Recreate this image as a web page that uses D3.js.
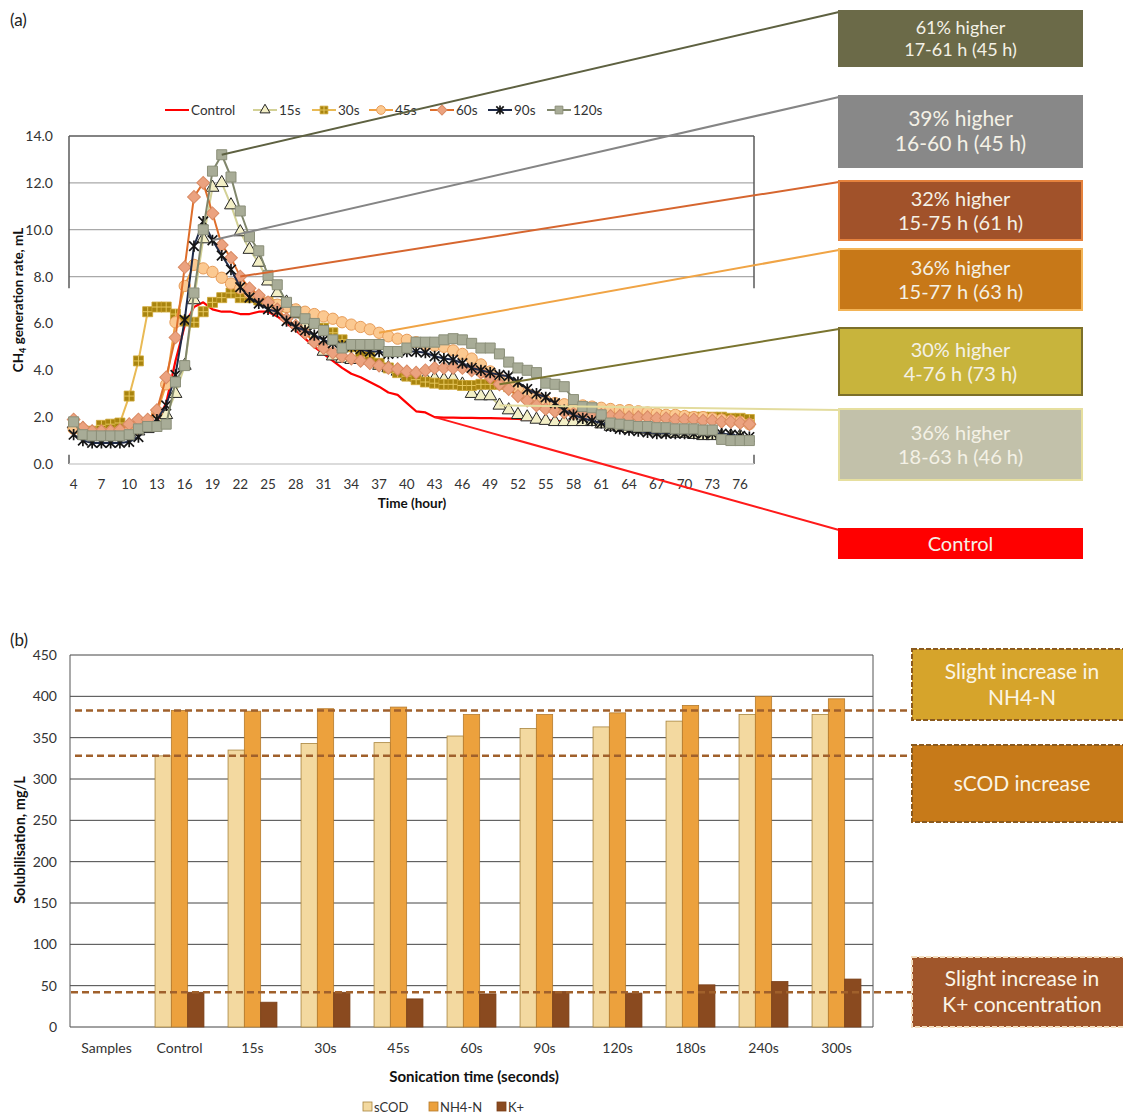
<!DOCTYPE html>
<html lang="en">
  <head>
    <meta charset="utf-8">
    <title>CH4 generation rate and solubilisation</title>
    <style type="text/css">
      body { margin: 0; background: #ffffff; }
      svg { display: block; font-family: Lato, "Open Sans", sans-serif; }
    </style>
  </head>
  <body>
    <svg id="chart" width="1123" height="1116"></svg>

    <script type="text/javascript" src="https://d3js.org/d3.v7.min.js"></script>

    <script type="text/javascript">
    // ===================================
    // DATA : (a) CH4 generation rate
    // ===================================
      var hours = [4, 5, 6, 7, 8, 9, 10, 11, 12, 13, 14, 15, 16, 17, 18, 19, 20, 21, 22, 23,
        24, 25, 26, 27, 28, 29, 30, 31, 32, 33, 34, 35, 36, 37, 38, 39, 40, 41, 42, 43,
        44, 45, 46, 47, 48, 49, 50, 51, 52, 53, 54, 55, 56, 57, 58, 59, 60, 61, 62, 63,
        64, 65, 66, 67, 68, 69, 70, 71, 72, 73, 74, 75, 76, 77];
      var hourTicks = [4, 7, 10, 13, 16, 19, 22, 25, 28, 31, 34, 37, 40, 43, 46, 49, 52, 55, 58, 61, 64, 67, 70, 73, 76];
      var rateTicks = [0, 2, 4, 6, 8, 10, 12, 14];
      var rateGrid = [8, 10, 12];

      var control = [1.5, 1.4, 1.3, 1.3, 1.3, 1.3, 1.35, 1.4, 1.5, 1.8,
        2.6, 4.4, 5.9, 6.7, 6.9, 6.6, 6.5, 6.5, 6.4, 6.4,
        6.5, 6.5, 6.3, 6.0, 5.7, 5.35, 5.0, 4.7, 4.4, 4.1,
        3.85, 3.7, 3.5, 3.3, 3.05, 2.95, 2.6, 2.25, 2.2, 2.0,
        1.98, 1.98, 1.97, 1.97, 1.96, 1.96, 1.95, 1.94, 1.93, 1.9,
        1.88, 1.86, 1.84, 1.82, 1.8, 1.78, 1.75,
        null, null, null, null, null, null, null, null, null, null, null, null, null, null, null, null, null];
      var s15 = [1.7, 1.5, 1.35, 1.3, 1.3, 1.3, 1.3, 1.4, 1.5, 1.7,
        2.1, 3.0, 4.2, 7.0, 9.6, 11.8, 12.0, 11.05, 9.9, 9.15,
        8.6, 7.8, 7.3, 6.9, 6.4, 5.9, 5.3, 4.8, 4.6, 4.5,
        4.45, 4.6, 4.45, 4.2, 4.1, 3.95, 3.75, 3.7, 3.65, 3.65,
        3.6, 3.65, 3.4, 3.0, 2.9, 2.9, 2.5, 2.3, 2.1, 2.0,
        1.9, 1.85, 1.8, 1.8, 1.8, 1.8, 1.8, 1.7, 1.6, 1.55,
        1.5, 1.5, 1.45, 1.4, 1.35, 1.3, 1.3, 1.25, 1.2, 1.2,
        1.2, 1.2, 1.2, null];
      var s30 = [1.6, 1.4, 1.4, 1.65, 1.7, 1.75, 2.9, 4.4, 6.5, 6.7,
        6.7, 6.4, 6.1, 6.05, 6.5, 6.9, 7.1, 7.3, 7.1, 7.1,
        7.0, 6.9, 6.8, 6.7, 6.5, 6.3, 6.0, 5.8, 5.6, 5.3,
        5.0, 4.8, 4.6, 4.3, 4.1, 3.9, 3.75, 3.6, 3.5, 3.45,
        3.4, 3.4, 3.35, 3.35, 3.4, 3.4, 3.4, 3.3, 3.1, 2.9,
        2.7, 2.55, 2.5, 2.4, 2.35, 2.3, 2.3, 2.25, 2.2, 2.2,
        2.15, 2.1, 2.1, 2.1, 2.05, 2.05, 2.0, 2.0, 2.0, 2.0,
        2.0, 1.95, 1.95, 1.9];
      var s45 = [1.5, 1.4, 1.35, 1.35, 1.35, 1.4, 1.45, 1.5, 1.7, 2.2,
        3.4, 6.05, 7.6, 8.5, 8.35, 8.2, 7.95, 7.7, 7.5, 7.3,
        7.1, 6.9, 6.8, 6.7, 6.6, 6.5, 6.4, 6.3, 6.2, 6.05,
        5.95, 5.85, 5.75, 5.6, 5.45, 5.35, 5.3, 5.2, 5.1, 5.05,
        5.0, 4.85, 4.7, 4.5, 4.25, 3.95, 3.65, 3.4, 3.2, 3.0,
        2.85, 2.7, 2.6, 2.55, 2.5, 2.5, 2.45, 2.4, 2.35, 2.3,
        2.3, 2.25, 2.2, 2.15, 2.1, 2.1, 2.05, 2.0, 2.0, 1.95,
        1.9, 1.85, 1.8, 1.7];
      var s60 = [1.9, 1.55, 1.4, 1.4, 1.4, 1.45, 1.7, 1.9, 1.9, 2.3,
        3.7, 5.4, 8.4, 11.4, 12.0, 10.7, 9.35, 8.8, 8.0, 7.5,
        7.2, 6.9, 6.6, 6.2, 5.9, 5.6, 5.2, 4.95, 4.75, 4.6,
        4.5, 4.4, 4.3, 4.2, 4.1, 4.05, 3.95, 3.9, 4.0, 4.1,
        4.1, 4.1, 4.1, 4.0, 3.9, 3.7, 3.4, 3.2, 2.9, 2.7,
        2.5, 2.35, 2.25, 2.2, 2.15, 2.1, 2.1, 2.1, 2.05, 2.05,
        2.0, 2.0, 2.0, 1.95, 1.95, 1.9, 1.9, 1.9, 1.85, 1.85,
        1.8, 1.8, 1.75, 1.7];
      var s90 = [1.25, 1.0, 0.9, 0.9, 0.9, 0.9, 0.95, 1.15, 1.6, 1.9,
        2.5, 3.8, 6.15, 9.3, 10.35, 9.55, 8.9, 8.3, 7.55, 7.1,
        6.85, 6.6, 6.5, 6.1, 5.85, 5.7, 5.5, 5.3, 5.15, 5.05,
        5.0, 4.9, 4.8, 4.8, 4.7, 4.75, 4.8, 4.8, 4.75, 4.6,
        4.5, 4.45, 4.3, 4.1, 4.0, 3.9, 3.8, 3.75, 3.5, 3.2,
        3.0, 2.85, 2.6, 2.3, 2.1, 1.95, 1.85, 1.75, 1.6, 1.5,
        1.45, 1.4, 1.35, 1.3, 1.3, 1.3, 1.3, 1.3, 1.3, 1.3,
        1.3, 1.25, 1.2, 1.15];
      var s120 = [1.8, 1.25, 1.2, 1.2, 1.2, 1.2, 1.25, 1.5, 1.6, 1.6,
        1.7, 3.5, 4.2, 7.3, 10.0, 12.5, 13.2, 12.25, 10.8, 9.7,
        9.1, 8.05, 7.65, 6.9, 6.5, 6.2, 6.0, 5.7, 5.3, 4.95,
        5.1, 5.1, 5.1, 5.1, 4.8, 4.8, 4.95, 5.2, 5.2, 5.2,
        5.3, 5.35, 5.3, 5.15, 4.95, 4.95, 4.7, 4.35, 4.1, 4.0,
        3.9, 3.45, 3.4, 3.3, 2.75, 2.45, 2.4, 2.1, 1.75, 1.7,
        1.65, 1.6, 1.6, 1.55, 1.55, 1.5, 1.5, 1.5, 1.45, 1.45,
        1.05, 1.0, 1.0, 1.0];

    // ===================================
    // DATA : (b) solubilisation
    // ===================================
      var samples = ["Samples", "Control", "15s", "30s", "45s", "60s", "90s", "120s", "180s", "240s", "300s"];
      var scod = [null, 328, 335, 343, 344, 352, 361, 363, 370, 378, 378];
      var nh4n = [null, 383, 382, 385, 387, 378, 378, 380, 389, 400, 397];
      var kplus = [null, 42, 30, 42, 34, 40, 43, 41, 51, 55, 58];
      var solTicks = [0, 50, 100, 150, 200, 250, 300, 350, 400, 450];

    // ===================================
    // SETUP
    // ===================================
      var svg = d3.select("#chart");
      var textColor = "#333333";

      // series styles, drawn in this order
      var seriesA = [
        { name: "Control", values: control, line: "#ff0000", width: 2.2, marker: null },
        { name: "15s", values: s15, line: "#d3d196", width: 2, marker: "triangle" },
        { name: "30s", values: s30, line: "#e9ba55", width: 2, marker: "squareCross" },
        { name: "45s", values: s45, line: "#f0a042", width: 2, marker: "circle" },
        { name: "60s", values: s60, line: "#de6e2b", width: 2, marker: "diamond" },
        { name: "90s", values: s90, line: "#1f2a47", width: 2, marker: "asterisk" },
        { name: "120s", values: s120, line: "#80866b", width: 2, marker: "square" }
      ];
      var byName = {};
      seriesA.forEach(function(s) { byName[s.name] = s; });

      // draws one marker glyph centred on (x, y)
      function drawMarker(g, type, x, y, k) {
        k = k || 1;
        var m = g.append("g").attr("transform", "translate(" + x + "," + y + ")");
        if (type === "triangle") {
          m.append("path").attr("d", d3.symbol(d3.symbolTriangle, 72 * k)())
            .attr("fill", "#f3efc6").attr("stroke", "#262626").attr("stroke-width", 1);
        } else if (type === "squareCross") {
          m.append("path").attr("d", d3.symbol(d3.symbolSquare, 100 * k)())
            .attr("fill", "#a8840f").attr("stroke", "#cfa735").attr("stroke-width", 0.8);
          var h = 5 * Math.sqrt(k);
          m.append("path").attr("d", "M" + (-h) + ",0H" + h + "M0," + (-h) + "V" + h)
            .attr("stroke", "#e6c65c").attr("stroke-width", 1);
        } else if (type === "circle") {
          m.append("path").attr("d", d3.symbol(d3.symbolCircle, 100 * k)())
            .attr("fill", "#fbc991").attr("stroke", "#e89c58").attr("stroke-width", 1);
        } else if (type === "diamond") {
          m.append("path").attr("d", d3.symbol(d3.symbolSquare, 82 * k)())
            .attr("transform", "rotate(45)")
            .attr("fill", "#eba27f").attr("stroke", "#d98a63").attr("stroke-width", 1);
        } else if (type === "asterisk") {
          var a = 4.8 * Math.sqrt(k);
          m.append("path")
            .attr("d", "M" + (-a) + "," + (-a) + "L" + a + "," + a + "M" + (-a) + "," + a + "L" + a + "," + (-a) +
              "M0," + (-a - 0.8) + "V" + (a + 0.8))
            .attr("stroke", "#151515").attr("stroke-width", 1.7).attr("fill", "none");
        } else if (type === "square") {
          m.append("path").attr("d", d3.symbol(d3.symbolSquare, 100 * k)())
            .attr("fill", "#a8ac97").attr("stroke", "#8b8f79").attr("stroke-width", 1);
        }
      }

    // ===================================
    // CHART (a)
    // ===================================
      var xA = d3.scalePoint().domain(hours).range([69, 754]).padding(0.5);
      var yA = d3.scaleLinear().domain([0, 14]).range([464, 136]);
      var gA = svg.append("g");

      svg.append("text").attr("x", 10).attr("y", 26)
        .attr("font-size", 17).attr("fill", "#222").text("(a)");

      // gridlines and frame (lower part of the frame is not drawn in the original)
      gA.selectAll("line.grid")
        .data(rateGrid)
        .enter()
        .append("line")
        .attr("x1", 69).attr("x2", 754)
        .attr("y1", function(d) { return yA(d); })
        .attr("y2", function(d) { return yA(d); })
        .attr("stroke", "#a9a9a9").attr("stroke-width", 1.2);
      gA.append("line").attr("x1", 69).attr("x2", 754).attr("y1", yA(14)).attr("y2", yA(14))
        .attr("stroke", "#5a5a5a").attr("stroke-width", 1.5);
      [69, 754].forEach(function(x) {
        gA.append("line").attr("x1", x).attr("x2", x).attr("y1", yA(14)).attr("y2", yA(7.5))
          .attr("stroke", "#5a5a5a").attr("stroke-width", 1.5);
        gA.append("line").attr("x1", x).attr("x2", x).attr("y1", yA(0.4)).attr("y2", yA(0))
          .attr("stroke", "#5a5a5a").attr("stroke-width", 1.5);
      });
      gA.append("line").attr("x1", 69).attr("x2", 754).attr("y1", yA(0)).attr("y2", yA(0))
        .attr("stroke", "#cfcfcf").attr("stroke-width", 1.5);

      // tick labels
      gA.selectAll("text.ytick")
        .data(rateTicks)
        .enter()
        .append("text")
        .attr("x", 53)
        .attr("y", function(d) { return yA(d) + 5; })
        .attr("text-anchor", "end")
        .attr("font-size", 14).attr("fill", textColor)
        .text(function(d) { return d3.format(".1f")(d); });
      gA.selectAll("text.xtick")
        .data(hourTicks)
        .enter()
        .append("text")
        .attr("x", function(d) { return xA(d); })
        .attr("y", 489)
        .attr("text-anchor", "middle")
        .attr("font-size", 13.5).attr("fill", textColor)
        .text(function(d) { return d; });

      // axis titles
      gA.append("text").attr("x", 412).attr("y", 508).attr("text-anchor", "middle")
        .attr("font-size", 13.5).attr("font-weight", "bold").attr("fill", "#111").text("Time (hour)");
      var yTitle = gA.append("text").attr("transform", "translate(23,300) rotate(-90)")
        .attr("text-anchor", "middle").attr("font-size", 13.5).attr("font-weight", "bold").attr("fill", "#111");
      yTitle.append("tspan").text("CH");
      yTitle.append("tspan").attr("font-size", 9).attr("dy", 3).text("4");
      yTitle.append("tspan").attr("dy", -3).text(" generation rate, mL");

      // series lines and markers
      var lineA = d3.line()
        .defined(function(d) { return d != null; })
        .x(function(d, i) { return xA(hours[i]); })
        .y(function(d) { return yA(d); });

      seriesA.forEach(function(s) {
        var gs = gA.append("g");
        gs.append("path")
          .attr("d", lineA(s.values))
          .attr("fill", "none")
          .attr("stroke", s.line)
          .attr("stroke-width", s.width)
          .attr("stroke-linejoin", "round");
        if (s.marker) {
          s.values.forEach(function(v, i) {
            if (v != null) drawMarker(gs, s.marker, xA(hours[i]), yA(v));
          });
        }
      });

      // legend
      var legendX = [165, 253, 312, 369, 430, 488, 547];
      seriesA.forEach(function(s, i) {
        var lx = legendX[i];
        var lg = gA.append("g");
        lg.append("line").attr("x1", lx).attr("x2", lx + 24).attr("y1", 110).attr("y2", 110)
          .attr("stroke", s.line).attr("stroke-width", 2);
        if (s.marker) drawMarker(lg, s.marker, lx + 12, 110, 0.6);
        lg.append("text").attr("x", lx + 26).attr("y", 114.5)
          .attr("font-size", 13.5).attr("fill", textColor).text(s.name);
      });

      // annotation boxes with connector lines to the curves
      var notes = [
        { series: "120s", hour: 20, top: 11, bottom: 66, fill: "#6b6a48", stroke: "#6b6a48", link: "#5e6141",
          lines: ["61% higher", "17-61 h (45 h)"], size: 18 },
        { series: "90s", hour: 19, top: 96, bottom: 167, fill: "#888888", stroke: "#888888", link: "#858585",
          lines: ["39% higher", "16-60 h (45 h)"], size: 21 },
        { series: "60s", hour: 22, top: 181, bottom: 240, fill: "#a1522a", stroke: "#e5823d", link: "#d6662f",
          lines: ["32% higher", "15-75 h (61 h)"], size: 20 },
        { series: "45s", hour: 37, top: 249, bottom: 310, fill: "#c77818", stroke: "#f3b456", link: "#f0a445",
          lines: ["36% higher", "15-77 h (63 h)"], size: 20 },
        { series: "30s", hour: 50, top: 328, bottom: 395, fill: "#c8b43c", stroke: "#7c702b", link: "#7a742f",
          lines: ["30% higher", "4-76 h (73 h)"], size: 20 },
        { series: "15s", hour: 50, top: 409, bottom: 480, fill: "#c2c1aa", stroke: "#e6df9f", link: "#e3dc9e",
          lines: ["36% higher", "18-63 h (46 h)"], size: 20 },
        { series: "Control", hour: 43, top: 529, bottom: 558, fill: "#ff0000", stroke: "#ff0000", link: "#ff1a1a",
          lines: ["Control"], size: 20 }
      ];
      var boxX = 839, boxW = 243;

      notes.forEach(function(n) {
        var s = byName[n.series];
        var v = s.values[hours.indexOf(n.hour)];
        gA.append("line")
          .attr("x1", xA(n.hour)).attr("y1", yA(v))
          .attr("x2", boxX).attr("y2", n.top + 1)
          .attr("stroke", n.link).attr("stroke-width", 2);
        gA.append("rect")
          .attr("x", boxX).attr("y", n.top)
          .attr("width", boxW).attr("height", n.bottom - n.top)
          .attr("fill", n.fill).attr("stroke", n.stroke).attr("stroke-width", 2);
        var mid = (n.top + n.bottom) / 2;
        var gap = n.size * 1.2;
        n.lines.forEach(function(t, j) {
          var ty = mid + (j - (n.lines.length - 1) / 2) * gap + n.size * 0.35;
          gA.append("text").attr("x", boxX + boxW / 2).attr("y", ty)
            .attr("text-anchor", "middle").attr("font-size", n.size)
            .attr("fill", "#f4f1e6").text(t);
        });
      });

    // ===================================
    // CHART (b)
    // ===================================
      var xB = d3.scaleBand().domain(samples).range([70, 873]).paddingInner(0.33).paddingOuter(0.165);
      var barKeys = ["sCOD", "NH4-N", "K+"];
      var barValues = { "sCOD": scod, "NH4-N": nh4n, "K+": kplus };
      var barFill = { "sCOD": "#f3d9a0", "NH4-N": "#eca13d", "K+": "#8a4a1f" };
      var barStroke = { "sCOD": "#a8843c", "NH4-N": "#b57a2c", "K+": "#7a3f18" };
      var xB1 = d3.scaleBand().domain(barKeys).range([0, xB.bandwidth()]);
      var yB = d3.scaleLinear().domain([0, 450]).range([1027, 655]);
      var gB = svg.append("g");

      svg.append("text").attr("x", 10).attr("y", 646)
        .attr("font-size", 17).attr("fill", "#222").text("(b)");

      // gridlines and frame
      gB.selectAll("line.grid")
        .data(solTicks)
        .enter()
        .append("line")
        .attr("x1", 70).attr("x2", 873)
        .attr("y1", function(d) { return yB(d); })
        .attr("y2", function(d) { return yB(d); })
        .attr("stroke", "#444").attr("stroke-width", 1);
      [70, 873].forEach(function(x) {
        gB.append("line").attr("x1", x).attr("x2", x).attr("y1", yB(450)).attr("y2", yB(0))
          .attr("stroke", "#555").attr("stroke-width", 1);
      });

      gB.selectAll("text.ytick")
        .data(solTicks)
        .enter()
        .append("text")
        .attr("x", 57)
        .attr("y", function(d) { return yB(d) + 5; })
        .attr("text-anchor", "end")
        .attr("font-size", 14).attr("fill", textColor)
        .text(function(d) { return d; });
      gB.selectAll("text.xtick")
        .data(samples)
        .enter()
        .append("text")
        .attr("x", function(d) { return xB(d) + xB.bandwidth() / 2; })
        .attr("y", 1053)
        .attr("text-anchor", "middle")
        .attr("font-size", 14).attr("fill", textColor)
        .text(function(d) { return d; });

      gB.append("text").attr("x", 474).attr("y", 1082).attr("text-anchor", "middle")
        .attr("font-size", 15).attr("font-weight", "bold").attr("fill", "#111").text("Sonication time (seconds)");
      gB.append("text").attr("transform", "translate(25,840) rotate(-90)").attr("text-anchor", "middle")
        .attr("font-size", 14.5).attr("font-weight", "bold").attr("fill", "#111").text("Solubilisation, mg/L");

      // bars
      samples.forEach(function(c, i) {
        barKeys.forEach(function(k) {
          var v = barValues[k][i];
          if (v == null) return;
          gB.append("rect")
            .attr("x", xB(c) + xB1(k))
            .attr("y", yB(v))
            .attr("width", xB1.bandwidth())
            .attr("height", yB(0) - yB(v))
            .attr("fill", barFill[k])
            .attr("stroke", barStroke[k])
            .attr("stroke-width", 0.8);
        });
      });

      // dashed reference lines at the control levels
      var refs = [
        { value: nh4n[1], x1: 75, top: 649, bottom: 720, fill: "#d6a42b", border: "#8a5a1f",
          lines: ["Slight increase in", "NH4-N"] },
        { value: scod[1], x1: 75, top: 745, bottom: 822, fill: "#c77a19", border: "#8a5a1f",
          lines: ["sCOD increase"] },
        { value: kplus[1], x1: 71, top: 957, bottom: 1027, fill: "#a0562b", border: "#f4dfc0",
          lines: ["Slight increase in", "K+ concentration"] }
      ];
      refs.forEach(function(r) {
        gB.append("line")
          .attr("x1", r.x1).attr("x2", 912)
          .attr("y1", yB(r.value)).attr("y2", yB(r.value))
          .attr("stroke", "#a0602b").attr("stroke-width", 2.5)
          .attr("stroke-dasharray", "7,4");
        gB.append("rect")
          .attr("x", 912).attr("y", r.top)
          .attr("width", 214).attr("height", r.bottom - r.top)
          .attr("fill", r.fill).attr("stroke", r.border)
          .attr("stroke-width", 2).attr("stroke-dasharray", "5,2");
        var mid = (r.top + r.bottom) / 2;
        r.lines.forEach(function(t, j) {
          var ty = mid + (j - (r.lines.length - 1) / 2) * 26 + 7;
          gB.append("text").attr("x", 1022).attr("y", ty)
            .attr("text-anchor", "middle").attr("font-size", 21)
            .attr("fill", "#fbf5e6").text(t);
        });
      });

      // legend
      var legB = [{ key: "sCOD", x: 363 }, { key: "NH4-N", x: 429 }, { key: "K+", x: 497 }];
      legB.forEach(function(l) {
        gB.append("rect").attr("x", l.x).attr("y", 1102).attr("width", 9).attr("height", 9)
          .attr("fill", barFill[l.key]).attr("stroke", barStroke[l.key]).attr("stroke-width", 0.8);
        gB.append("text").attr("x", l.x + 11).attr("y", 1111.5)
          .attr("font-size", 13).attr("fill", textColor).text(l.key);
      });
    </script>
  </body>
</html>
